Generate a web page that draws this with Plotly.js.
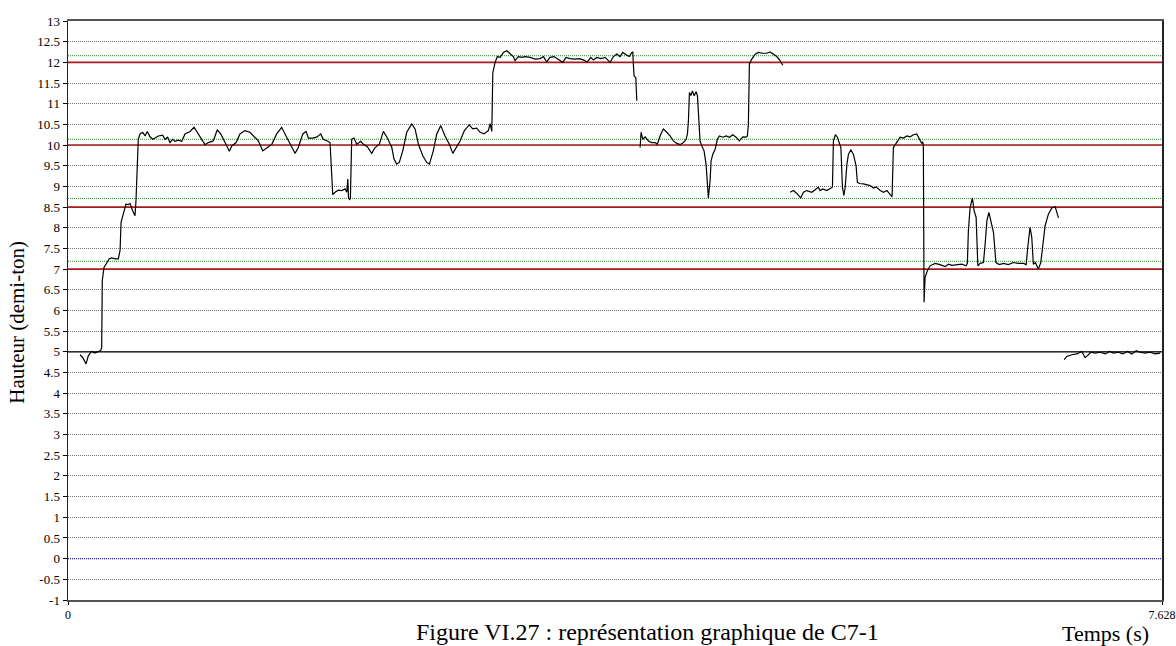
<!DOCTYPE html>
<html>
<head>
<meta charset="utf-8">
<script src="https://cdn.plot.ly/plotly-3.0.1.min.js"></script>
<style>html,body{margin:0;padding:0;background:#fff;}#chart{width:1176px;height:646px;}</style>
</head>
<body>
<div id="chart"></div>
<script>
// Segment 1 (time in s, height in half-tones)
const t1 = [0.084,0.103,0.126,0.142,0.165,0.188,0.211,0.228,0.235,0.239,0.251,0.270,0.288,0.305,0.328,0.351,0.363,0.370,0.386,0.404,0.421,0.432,0.451,0.467,0.474,0.486,0.490,0.502,0.521,0.537,0.553,0.572,0.591,0.607,0.630,0.660,0.676,0.695,0.711,0.730,0.746,0.769,0.793,0.816,0.851,0.879,0.897,0.925,0.955,0.978,1.013,1.041,1.065,1.095,1.125,1.142,1.172,1.199,1.234,1.269,1.297,1.327,1.358,1.386,1.421,1.455,1.490,1.520,1.548,1.583,1.606,1.637,1.660,1.676,1.706,1.734,1.762,1.780,1.808,1.827,1.846,1.862,1.885,1.909,1.932,1.944,1.951,1.956,1.963,1.969,1.978,1.994,2.013,2.041,2.059,2.087,2.118,2.141,2.171,2.199,2.227,2.258,2.273,2.292,2.310,2.334,2.362,2.397,2.420,2.443,2.474,2.501,2.520,2.547,2.571,2.599,2.629,2.659,2.683,2.706,2.734,2.764,2.798,2.822,2.850,2.873,2.901,2.931,2.943,2.955,2.962,2.978,2.994,3.013,3.036,3.059,3.082,3.105,3.117,3.140,3.164,3.187,3.222,3.257,3.292,3.315,3.338,3.361,3.389,3.419,3.450,3.473,3.501,3.536,3.566,3.593,3.621,3.645,3.663,3.687,3.715,3.745,3.780,3.803,3.826,3.849,3.868,3.896,3.914,3.931,3.938,3.942,3.947,3.959,3.966];
const h1 = [4.93,4.86,4.71,4.91,5.01,4.97,5.01,5.03,5.11,6.72,7.04,7.14,7.25,7.27,7.25,7.25,7.45,8.13,8.33,8.57,8.56,8.59,8.41,8.29,8.65,9.86,10.14,10.27,10.31,10.22,10.33,10.2,10.14,10.17,10.22,10.24,10.14,10.19,10.06,10.14,10.09,10.12,10.09,10.27,10.33,10.43,10.33,10.19,10.01,10.06,10.1,10.37,10.27,10.06,9.85,9.98,10.06,10.27,10.35,10.31,10.22,10.1,9.86,9.94,10.02,10.27,10.43,10.22,10.02,9.8,9.94,10.27,10.33,10.17,10.17,10.19,10.27,10.14,10.1,10.06,8.8,8.86,8.91,8.9,8.94,8.86,9.18,8.72,8.68,8.7,10.14,10.17,10.02,10.09,10.02,9.96,9.8,9.94,10.02,10.33,10.17,9.94,9.66,9.54,9.58,9.86,10.31,10.51,10.39,10.02,9.74,9.58,9.54,9.86,10.27,10.47,10.22,10.02,9.8,9.94,10.1,10.35,10.49,10.39,10.41,10.31,10.27,10.35,10.52,10.33,11.75,12.0,12.14,12.12,12.24,12.28,12.22,12.14,12.04,12.14,12.12,12.14,12.12,12.08,12.09,12.14,12.01,12.12,12.14,12.08,12.0,12.12,12.09,12.08,12.09,12.06,12.01,12.12,12.06,12.12,12.09,12.12,12.0,12.14,12.2,12.14,12.24,12.17,12.14,12.24,12.25,11.96,11.67,11.63,11.07];

// Segment 2
const t2 = [3.989,3.996,4.008,4.024,4.047,4.070,4.093,4.109,4.128,4.151,4.175,4.198,4.221,4.245,4.268,4.291,4.310,4.319,4.326,4.333,4.343,4.354,4.366,4.380,4.389,4.396,4.403,4.407,4.419,4.435,4.449,4.458,4.465,4.477,4.484,4.496,4.512,4.528,4.542,4.566,4.589,4.612,4.635,4.658,4.681,4.705,4.728,4.737,4.744,4.751,4.768,4.791,4.814,4.844,4.872,4.895,4.918,4.942,4.965,4.984];
const h2 = [9.94,10.31,10.14,10.2,10.1,10.06,10.06,10.02,10.22,10.39,10.31,10.22,10.1,10.04,10.01,10.06,10.14,10.27,10.59,11.27,11.2,11.31,11.19,11.29,11.19,10.8,10.5,10.1,9.98,9.86,9.54,8.98,8.72,9.14,9.62,9.78,9.9,10.14,10.22,10.19,10.22,10.19,10.25,10.19,10.1,10.2,10.19,10.22,10.5,11.96,12.08,12.2,12.24,12.22,12.22,12.25,12.2,12.14,12.04,11.93];

// Segment 3
const t3 = [5.035,5.058,5.082,5.109,5.128,5.151,5.186,5.209,5.232,5.244,5.263,5.291,5.314,5.330,5.337,5.351,5.365,5.389,5.400,5.410,5.419,5.431,5.442,5.459,5.476,5.495,5.504,5.518,5.546,5.570,5.593,5.616,5.635,5.663,5.686,5.710,5.733,5.746,5.755,5.779,5.802,5.825,5.849,5.872,5.895,5.918,5.936,5.953,5.960,5.964,5.969,5.976,5.992,6.011,6.046,6.081,6.116,6.139,6.163,6.197,6.232,6.262,6.271,6.278,6.290,6.306,6.318,6.332,6.344,6.360,6.383,6.395,6.407,6.421,6.442,6.453,6.470,6.494,6.522,6.557,6.592,6.627,6.662,6.681,6.692,6.708,6.720,6.731,6.745,6.766,6.783,6.797,6.813,6.836,6.860,6.883,6.895,6.906];
const h3 = [8.86,8.9,8.83,8.72,8.86,8.9,8.86,8.91,8.98,8.9,8.94,8.9,8.94,8.98,10.1,10.25,10.19,9.94,8.98,8.78,8.98,9.54,9.78,9.88,9.78,9.5,9.1,9.07,9.06,9.04,9.02,8.96,8.99,8.9,8.86,8.9,8.82,8.75,9.94,10.06,10.19,10.17,10.22,10.2,10.25,10.27,10.14,10.04,10.08,9.98,6.2,6.8,6.96,7.08,7.14,7.11,7.06,7.12,7.09,7.11,7.12,7.08,7.14,7.93,8.49,8.72,8.41,8.25,7.08,7.14,7.16,7.61,8.17,8.37,8.09,7.89,7.16,7.11,7.14,7.11,7.16,7.14,7.14,7.11,7.53,8.01,7.77,7.12,7.16,7.0,7.16,7.53,8.05,8.33,8.48,8.51,8.37,8.24];

// Segment 4
const t4 = [6.946,6.964,6.999,7.034,7.069,7.092,7.108,7.132,7.162,7.197,7.232,7.262,7.289,7.324,7.355,7.387,7.418,7.448,7.476,7.510,7.545,7.580,7.615];
const h4 = [4.81,4.89,4.93,4.95,5.01,4.86,4.91,4.99,4.97,4.99,4.95,5.01,4.97,4.99,4.95,5.01,4.95,5.03,4.99,4.97,4.99,4.95,4.97];

// Reference levels
const redLevels = [7, 8.5, 10, 12];
const greenLevels = [7.19, 8.71, 10.14, 12.16];
const blackLevels = [5];
const blueLevels = [0];

const xMax = 7.628;
const xTickVals = [0, 7.628];
const xTickText = ['0', '7.628'];
const yTickVals = [];
for (let v = -1; v <= 13.001; v += 0.5) yTickVals.push(Math.round(v*10)/10);

const FONT = 'Liberation Serif, Times New Roman, serif';

const xs = [].concat(t1, [null], t2, [null], t3, [null], t4);
const ys = [].concat(h1, [null], h2, [null], h3, [null], h4);

const data = [];
function levelTrace(y, color, width, dash) {
  data.push({x: [0, xMax], y: [y, y], type: 'scatter', mode: 'lines',
    line: {color: color, width: width, dash: dash}, hoverinfo: 'skip', cliponaxis: true});
}
greenLevels.forEach(v => levelTrace(v, '#2a8a2a', 1, '1px,1px'));
redLevels.forEach(v => levelTrace(v, '#a51c1c', 1.6, 'solid'));
blackLevels.forEach(v => levelTrace(v, '#000000', 1.2, 'solid'));
blueLevels.forEach(v => levelTrace(v, '#1a1aa0', 1.3, '1px,1px'));

data.push({
  x: xs, y: ys, type: 'scatter', mode: 'lines',
  line: {color: '#000', width: 1.2}, connectgaps: false, hoverinfo: 'skip'
});

const layout = {
  width: 1176, height: 646,
  margin: {l: 68, r: 14, t: 21, b: 46},
  paper_bgcolor: '#fff', plot_bgcolor: '#fff',
  showlegend: false,
  font: {family: FONT, color: '#000'},
  xaxis: {
    range: [0, xMax], showgrid: false, zeroline: false,
    tickvals: xTickVals, ticktext: xTickText,
    tickfont: {family: FONT, size: 12, color: '#000'},
    ticklabeloverflow: 'allow',
    ticks: 'outside', ticklen: 3, tickcolor: '#000',
    showline: true, linecolor: '#555', linewidth: 2, mirror: true
  },
  yaxis: {
    range: [-1, 13], tickvals: yTickVals,
    ticktext: yTickVals.map(v => String(v)),
    tickfont: {family: FONT, size: 13, color: '#000'},
    ticks: 'outside', ticklen: 4, tickcolor: '#000',
    showgrid: true, gridcolor: '#777', gridwidth: 1, griddash: '1px,1px',
    zeroline: false,
    showline: true, linecolor: '#222', linewidth: 1.5, mirror: true
  },
  annotations: [
    {text: 'Hauteur (demi-ton)', xref: 'paper', yref: 'paper', x: -0.047, y: 0.48,
     textangle: -90, showarrow: false, font: {family: FONT, size: 21, color: '#000'},
     xanchor: 'center', yanchor: 'middle'},
    {text: 'Temps (s)', xref: 'paper', yref: 'paper', x: 0.948, y: -0.057,
     showarrow: false, font: {family: FONT, size: 22, color: '#000'},
     xanchor: 'center', yanchor: 'middle'},
    {text: 'Figure VI.27 : représentation graphique de C7-1', xref: 'paper', yref: 'paper',
     x: 0.53, y: -0.055, showarrow: false, font: {family: FONT, size: 24, color: '#000'},
     xanchor: 'center', yanchor: 'middle'}
  ]
};

Plotly.newPlot('chart', data, layout, {displayModeBar: false, staticPlot: true});
</script>
</body>
</html>
